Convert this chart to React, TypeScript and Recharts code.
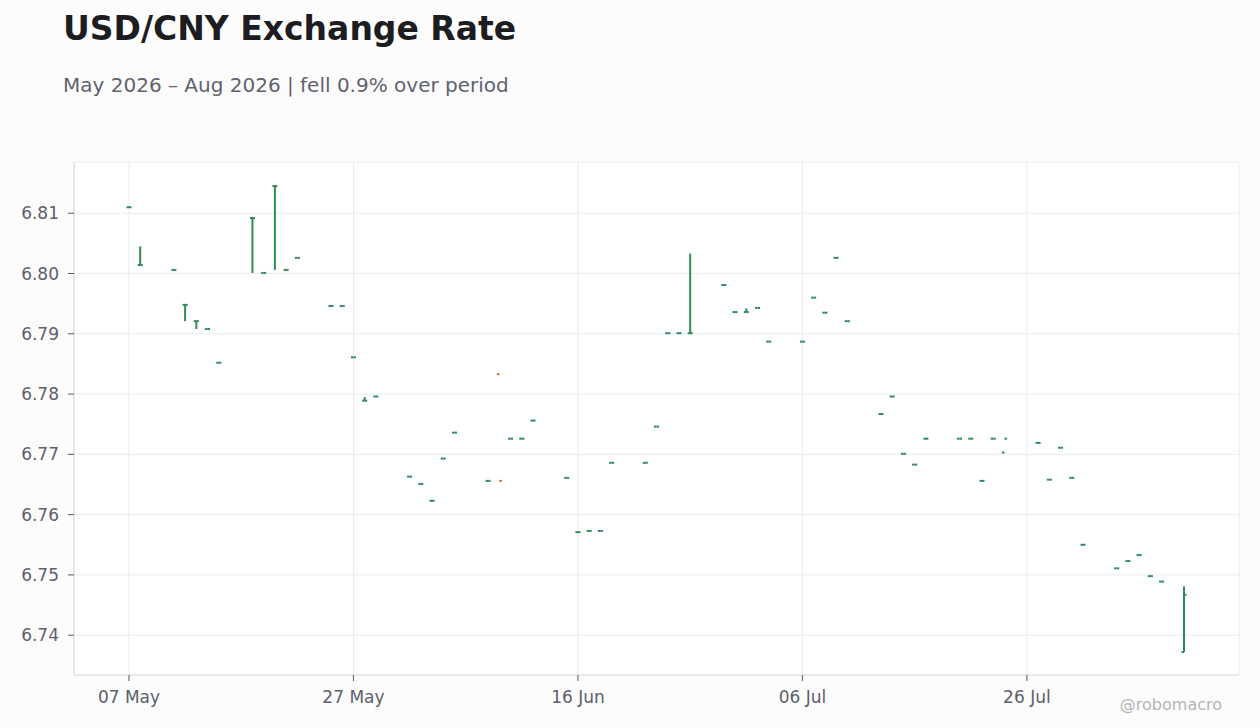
import React from 'react';
import { ComposedChart, Scatter, ErrorBar, XAxis, YAxis, CartesianGrid } from 'recharts';

// daily USD/CNY OHLC
const dates = [
  '2026-05-07', '2026-05-08', '2026-05-11', '2026-05-12', '2026-05-13', '2026-05-14', '2026-05-15',
  '2026-05-18', '2026-05-19', '2026-05-20', '2026-05-21', '2026-05-22',
  '2026-05-25', '2026-05-26', '2026-05-27', '2026-05-28', '2026-05-29',
  '2026-06-01', '2026-06-02', '2026-06-03', '2026-06-04', '2026-06-05',
  '2026-06-08', '2026-06-09', '2026-06-10', '2026-06-11', '2026-06-12',
  '2026-06-15', '2026-06-16', '2026-06-17', '2026-06-18', '2026-06-19',
  '2026-06-22', '2026-06-23', '2026-06-24', '2026-06-25', '2026-06-26',
  '2026-06-29', '2026-06-30', '2026-07-01', '2026-07-02', '2026-07-03',
  '2026-07-06', '2026-07-07', '2026-07-08', '2026-07-09', '2026-07-10',
  '2026-07-13', '2026-07-14', '2026-07-15', '2026-07-16', '2026-07-17',
  '2026-07-20', '2026-07-21', '2026-07-22', '2026-07-23', '2026-07-24',
  '2026-07-27', '2026-07-28', '2026-07-29', '2026-07-30', '2026-07-31',
  '2026-08-03', '2026-08-04', '2026-08-05', '2026-08-06', '2026-08-07',
  '2026-08-09',
];

const opens = [
  6.8110, 6.8014, 6.8006, 6.7948, 6.7921, 6.7908, 6.7852,
  6.8092, 6.8001, 6.8145, 6.8006, 6.8026,
  6.7946, 6.7946, 6.7861, 6.7789, 6.7796,
  6.7663, 6.7651, 6.7623, 6.7693, 6.7736,
  6.7656, 6.7833, 6.7726, 6.7726, 6.7756,
  6.7661, 6.7571, 6.7573, 6.7573, 6.7686,
  6.7686, 6.7746, 6.7901, 6.7901, 6.7901,
  6.7981, 6.7936, 6.7936, 6.7943, 6.7887,
  6.7887, 6.7960, 6.7935, 6.8026, 6.7921,
  6.7767, 6.7796, 6.7701, 6.7683, 6.7726,
  6.7726, 6.7726, 6.7656, 6.7726, 6.7703,
  6.7719, 6.7658, 6.7711, 6.7661, 6.7550,
  6.7511, 6.7523, 6.7533, 6.7498, 6.7489,
  6.7372,
];

const closes = [
  6.8110, 6.8014, 6.8006, 6.7948, 6.7921, 6.7908, 6.7852,
  6.8092, 6.8001, 6.8145, 6.8006, 6.8026,
  6.7946, 6.7946, 6.7861, 6.7789, 6.7796,
  6.7663, 6.7651, 6.7623, 6.7693, 6.7736,
  6.7656, 6.7656, 6.7726, 6.7726, 6.7756,
  6.7661, 6.7571, 6.7573, 6.7573, 6.7686,
  6.7686, 6.7746, 6.7901, 6.7901, 6.7901,
  6.7981, 6.7936, 6.7936, 6.7943, 6.7887,
  6.7887, 6.7960, 6.7935, 6.8026, 6.7921,
  6.7767, 6.7796, 6.7701, 6.7683, 6.7726,
  6.7726, 6.7726, 6.7656, 6.7726, 6.7726,
  6.7719, 6.7658, 6.7711, 6.7661, 6.7550,
  6.7511, 6.7523, 6.7533, 6.7498, 6.7489,
  6.7467,
];

// null = no high/low reported that day (no stem drawn)
const highs: (number | null)[] = [
  6.8110, 6.8045, 6.8006, 6.7949, 6.7921, 6.7908, 6.7852,
  6.8093, 6.8001, 6.8146, 6.8006, 6.8026,
  6.7946, 6.7946, 6.7861, 6.7795, 6.7796,
  6.7663, 6.7651, 6.7623, 6.7693, 6.7736,
  6.7656, null, 6.7726, 6.7726, 6.7756,
  6.7661, 6.7571, 6.7573, 6.7573, 6.7686,
  6.7686, 6.7746, 6.7901, 6.7901, 6.8033,
  6.7981, 6.7936, 6.7942, 6.7943, 6.7887,
  6.7887, 6.7960, 6.7935, 6.8026, 6.7921,
  6.7767, 6.7796, 6.7701, 6.7683, 6.7726,
  6.7726, 6.7726, 6.7656, 6.7726, null,
  6.7719, 6.7658, 6.7711, 6.7661, 6.7550,
  6.7511, 6.7523, 6.7533, 6.7498, 6.7489,
  6.7481,
];

const lows: (number | null)[] = [
  6.8110, 6.8013, 6.8006, 6.7921, 6.7908, 6.7908, 6.7852,
  6.8001, 6.8001, 6.8006, 6.8006, 6.8026,
  6.7946, 6.7946, 6.7861, 6.7789, 6.7796,
  6.7663, 6.7651, 6.7623, 6.7693, 6.7736,
  6.7656, null, 6.7726, 6.7726, 6.7756,
  6.7661, 6.7571, 6.7573, 6.7573, 6.7686,
  6.7686, 6.7746, 6.7901, 6.7901, 6.7901,
  6.7981, 6.7936, 6.7936, 6.7943, 6.7887,
  6.7887, 6.7960, 6.7935, 6.8026, 6.7921,
  6.7767, 6.7796, 6.7701, 6.7683, 6.7726,
  6.7726, 6.7726, 6.7656, 6.7726, null,
  6.7719, 6.7658, 6.7711, 6.7661, 6.7550,
  6.7511, 6.7523, 6.7533, 6.7498, 6.7489,
  6.7372,
];

const yTicks = [6.74, 6.75, 6.76, 6.77, 6.78, 6.79, 6.8, 6.81];
const xTickDates = ['2026-05-07', '2026-05-27', '2026-06-16', '2026-07-06', '2026-07-26'];
const xTickLabels = ['07 May', '27 May', '16 Jun', '06 Jul', '26 Jul'];

const GREEN = '#2e8b57';
const RED = '#d9603b';
const FONT = '"DejaVu Sans", sans-serif';

const DAY = 86400000;
const t0 = Date.parse(dates[0]);
const dayOf = (d: string) => Math.round((Date.parse(d) - t0) / DAY);

const rows = dates.map((d, i) => {
  const o = opens[i];
  const h = highs[i];
  const l = lows[i];
  return {
    t: dayOf(d),
    open: o,
    close: closes[i],
    up: closes[i] >= o,
    err: h == null || l == null ? [0, 0] : [o - l, h - o],
  };
});

const xTicks = xTickDates.map(dayOf);

const OpenTick = (props: any) => {
  const { cx, cy, payload } = props;
  return <line x1={cx - 2.5} x2={cx} y1={cy} y2={cy} stroke={payload.up ? GREEN : RED} strokeWidth={2} />;
};

const CloseTick = (props: any) => {
  const { cx, cy, payload } = props;
  return <line x1={cx} x2={cx + 2.5} y1={cy} y2={cy} stroke={payload.up ? GREEN : RED} strokeWidth={2} />;
};

export default function App() {
  return (
    <div style={{ position: 'absolute', left: 0, top: 0, width: 1260, height: 728, background: '#fcfcfc', fontFamily: FONT }}>
      <svg width={1260} height={120} style={{ position: 'absolute', left: 0, top: 0 }}>
        <text x={63} y={40} fontSize={33} fontWeight="bold" fill="#1c1c21" fontFamily={FONT}>
          USD/CNY Exchange Rate
        </text>
        <text x={63} y={92} fontSize={20} fill="#5f636e" fontFamily={FONT}>
          May 2026 – Aug 2026 | fell 0.9% over period
        </text>
      </svg>
      <div style={{ position: 'absolute', left: 0, top: 0 }}>
        <ComposedChart width={1260} height={728} data={rows} margin={{ top: 162, right: 21, bottom: 0, left: 0 }}>
          <CartesianGrid stroke="#ececec" fill="#ffffff" />
          <XAxis
            dataKey="t"
            type="number"
            domain={[-4.9, 98.9]}
            allowDataOverflow
            ticks={xTicks}
            tickFormatter={(v: number) => xTickLabels[xTicks.indexOf(v)] ?? ''}
            height={53}
            tickSize={6}
            tickMargin={10}
            axisLine={{ stroke: '#dcdcdc' }}
            tickLine={{ stroke: '#555a63' }}
            tick={{ fill: '#5c606b', fontSize: 17, fontFamily: FONT }}
          />
          <XAxis xAxisId="top" orientation="top" type="number" domain={[-4.9, 98.9]} height={0} tick={false} tickLine={false} axisLine={{ stroke: '#dcdcdc' }} />
          <YAxis
            type="number"
            domain={[6.7334, 6.8185]}
            allowDataOverflow
            ticks={yTicks}
            tickFormatter={(v: number) => v.toFixed(2)}
            width={74}
            tickSize={6}
            tickMargin={9}
            axisLine={{ stroke: '#dcdcdc' }}
            tickLine={{ stroke: '#555a63' }}
            tick={{ fill: '#5c606b', fontSize: 17, fontFamily: FONT }}
          />
          <YAxis yAxisId="right" orientation="right" type="number" domain={[6.7334, 6.8185]} width={0} tick={false} tickLine={false} axisLine={{ stroke: '#dcdcdc' }} />
          <Scatter dataKey="open" shape={OpenTick} isAnimationActive={false}>
            <ErrorBar dataKey="err" direction="y" width={0} stroke={GREEN} strokeWidth={2} isAnimationActive={false} />
          </Scatter>
          <Scatter dataKey="close" shape={CloseTick} isAnimationActive={false} />
        </ComposedChart>
      </div>
      <svg width={1260} height={728} style={{ position: 'absolute', left: 0, top: 0, pointerEvents: 'none' }}>
        <text x={1222} y={710} textAnchor="end" fontSize={16} fill="#b4b4b4" fontFamily={FONT}>
          @robomacro
        </text>
      </svg>
    </div>
  );
}
